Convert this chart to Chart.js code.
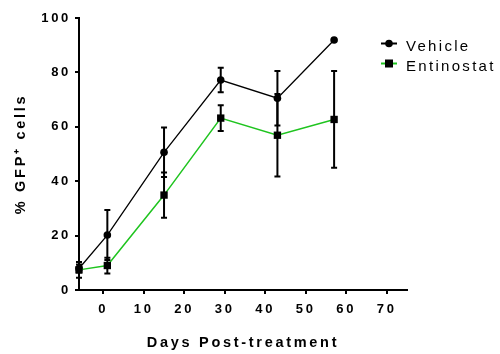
<!DOCTYPE html>
<html>
<head>
<meta charset="utf-8">
<script src="https://cdn.jsdelivr.net/npm/chart.js@4"></script>
<style>
  html, body { margin: 0; padding: 0; background: #fff; }
  #wrap { width: 500px; height: 354px; }
</style>
</head>
<body>
<div id="wrap"><canvas id="c" width="500" height="354"></canvas></div>
<script>
// Days after treatment and % GFP+ cells (mean, SEM) per group
const days = [-6, 1, 15, 29, 43, 57];
const vehicle = [7.9, 20.2, 50.6, 77.2, 70.5, 91.9];
const vehicleErr = [1.5, 9.2, 9.1, 4.5, 10.0, 0];
const entinostat = [7.4, 9.0, 34.9, 63.2, 56.9, 62.7];
const entinostatErr = [2.9, 2.9, 8.3, 4.7, 15.2, 17.8];
const xTicks = [0, 10, 20, 30, 40, 50, 60, 70];
const yTicks = [0, 20, 40, 60, 80, 100];

const FONT = "'Liberation Sans', Arial, sans-serif";
const GREEN = '#1fc41f';

const toPoints = vals => vals.map((v, i) => ({ x: days[i], y: v }));

// Vertical error bars with caps, drawn in black for every group
const errorBars = {
  id: 'errorBars',
  afterDatasetsDraw(chart) {
    const { ctx, scales: { x, y } } = chart;
    ctx.save();
    ctx.strokeStyle = '#000';
    ctx.lineWidth = 2;
    chart.data.datasets.forEach(ds => {
      ds.errors.forEach((e, i) => {
        if (!e) return;
        const px = x.getPixelForValue(ds.data[i].x);
        const hi = y.getPixelForValue(ds.data[i].y + e);
        const lo = y.getPixelForValue(ds.data[i].y - e);
        ctx.beginPath();
        ctx.moveTo(px, hi); ctx.lineTo(px, lo);
        ctx.moveTo(px - 3, hi); ctx.lineTo(px + 3, hi);
        ctx.moveTo(px - 3, lo); ctx.lineTo(px + 3, lo);
        ctx.stroke();
      });
    });
    ctx.restore();
  }
};

// Legend at the upper right: short line with marker, then the label
const sideLegend = {
  id: 'sideLegend',
  afterDraw(chart) {
    const { ctx, chartArea } = chart;
    const x0 = chartArea.right - 26;
    ctx.save();
    ctx.letterSpacing = '2.3px';
    ctx.font = '15px ' + FONT;
    ctx.textBaseline = 'middle';
    ctx.textAlign = 'left';
    chart.data.datasets.forEach((ds, k) => {
      const yy = chartArea.top + 25.5 + k * 20;
      ctx.strokeStyle = ds.borderColor;
      ctx.lineWidth = 2;
      ctx.beginPath();
      ctx.moveTo(x0, yy); ctx.lineTo(x0 + 16, yy);
      ctx.stroke();
      ctx.fillStyle = '#000';
      if (ds.pointStyle === 'rect') {
        ctx.fillRect(x0 + 4, yy - 4, 8, 8);
      } else {
        ctx.beginPath();
        ctx.arc(x0 + 8, yy, 3.8, 0, Math.PI * 2);
        ctx.fill();
      }
      ctx.fillStyle = '#000';
      ctx.fillText(ds.label, x0 + 25, yy + 3);
    });
    ctx.restore();
  }
};

// Wider letter spacing for axis text
const spacing = {
  id: 'spacing',
  beforeDraw(chart) { chart.ctx.letterSpacing = '2.7px'; }
};

new Chart(document.getElementById('c'), {
  type: 'line',
  data: {
    datasets: [
      {
        label: 'Vehicle',
        data: toPoints(vehicle),
        errors: vehicleErr,
        borderColor: '#000',
        borderWidth: 1.3,
        pointStyle: 'circle',
        pointRadius: 3.8,
        pointBackgroundColor: '#000',
        pointBorderColor: '#000',
        pointBorderWidth: 0,
        tension: 0,
        clip: false,
        order: 1
      },
      {
        label: 'Entinostat',
        data: toPoints(entinostat),
        errors: entinostatErr,
        borderColor: GREEN,
        borderWidth: 1.5,
        pointStyle: 'rect',
        pointRadius: 5.2,
        pointBackgroundColor: '#000',
        pointBorderColor: '#000',
        pointBorderWidth: 0,
        tension: 0,
        clip: false,
        order: 0
      }
    ]
  },
  options: {
    responsive: false,
    animation: false,
    devicePixelRatio: 1,
    layout: { padding: { left: 0, top: 18, right: 93, bottom: 0 } },
    plugins: {
      legend: { display: false },
      tooltip: { enabled: false }
    },
    scales: {
      x: {
        type: 'linear',
        min: -6,
        max: 75,
        afterBuildTicks(scale) { scale.ticks = xTicks.map(v => ({ value: v })); },
        afterFit(scale) { scale.height = 64; },
        border: { display: true, color: '#000', width: 2 },
        grid: { display: true, drawOnChartArea: false, color: '#000', lineWidth: 2, tickLength: 4 },
        ticks: {
          autoSkip: false,
          maxRotation: 0,
          padding: 8,
          color: '#000',
          font: { family: FONT, size: 13, weight: 'bold' }
        },
        title: {
          display: true,
          text: 'Days Post-treatment',
          color: '#000',
          font: { family: FONT, size: 14.5, weight: 'bold' },
          padding: { top: 0, bottom: 2 }
        }
      },
      y: {
        min: 0,
        max: 100,
        afterBuildTicks(scale) { scale.ticks = yTicks.map(v => ({ value: v })); },
        afterFit(scale) { scale.width = 79; },
        border: { display: true, color: '#000', width: 2 },
        grid: { display: true, drawOnChartArea: false, color: '#000', lineWidth: 2, tickLength: 4 },
        ticks: {
          padding: 4,
          color: '#000',
          font: { family: FONT, size: 13, weight: 'bold' }
        },
        title: {
          display: true,
          text: '% GFP\u207A cells',
          color: '#000',
          font: { family: FONT, size: 14.5, weight: 'bold' },
          padding: { top: 12.3, bottom: 0 }
        }
      }
    }
  },
  plugins: [spacing, errorBars, sideLegend]
});
</script>
</body>
</html>
